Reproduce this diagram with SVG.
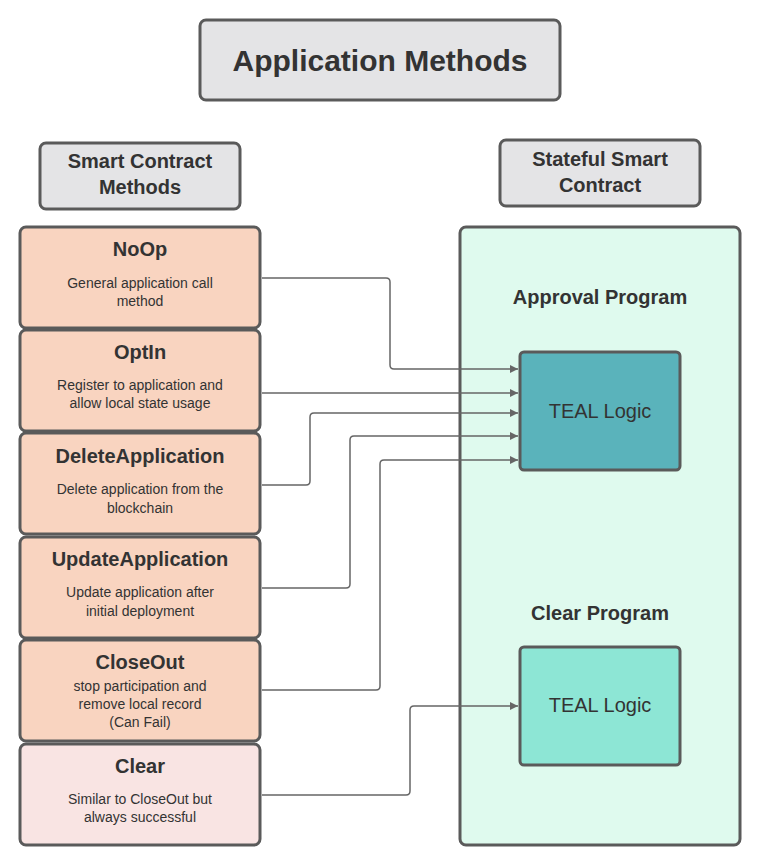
<svg xmlns="http://www.w3.org/2000/svg" width="760" height="866" viewBox="0 0 760 866">
<style>
.b{stroke:#5a5a5a;stroke-width:3}
.h{fill:#e4e4e6}
.m{fill:#f9d4c0}
.t{font-family:"Liberation Sans",Arial,sans-serif;fill:#333;text-anchor:middle}
.bt{font-weight:bold;font-size:20px}
.st{font-size:14px}
.c{fill:none;stroke:#666;stroke-width:1.5;marker-end:url(#a)}
</style>
<defs><marker id="a" viewBox="0 0 10 10" refX="10" refY="5" markerWidth="8" markerHeight="8" markerUnits="userSpaceOnUse" orient="auto"><path d="M0,0L10,5L0,10z" fill="#666"/></marker></defs>
<rect width="760" height="866" fill="#fff"/>
<g id="title"><rect class="b h" x="200" y="20" width="360" height="80" rx="6"/><text class="t" x="380" y="71" font-size="30" font-weight="bold">Application Methods</text></g>
<g id="hdrL"><rect class="b h" x="40" y="143" width="200" height="66" rx="6"/><text class="t bt" x="140" y="168">Smart Contract</text><text class="t bt" x="140" y="194">Methods</text></g>
<g id="hdrR"><rect class="b h" x="500" y="140" width="200" height="66" rx="6"/><text class="t bt" x="600" y="166">Stateful Smart</text><text class="t bt" x="600" y="192">Contract</text></g>
<g id="ssc"><rect class="b" fill="#dffaee" x="460" y="227" width="280" height="618" rx="6"/><text class="t bt" x="600" y="304">Approval Program</text><text class="t bt" x="600" y="620">Clear Program</text></g>
<g id="teal1"><rect class="b" fill="#5ab3bb" x="520" y="352" width="160" height="118" rx="4"/><text class="t" x="600" y="418" font-size="20">TEAL Logic</text></g>
<g id="teal2"><rect class="b" fill="#8de6d5" x="520" y="647" width="160" height="118" rx="4"/><text class="t" x="600" y="712" font-size="20">TEAL Logic</text></g>
<g id="noop"><rect class="b m" x="20" y="227" width="240" height="101" rx="6"/><text class="t bt" x="140" y="256">NoOp</text><text class="t st" x="140" y="288">General application call</text><text class="t st" x="140" y="306">method</text></g>
<g id="optin"><rect class="b m" x="20" y="330" width="240" height="101" rx="6"/><text class="t bt" x="140" y="359">OptIn</text><text class="t st" x="140" y="390">Register to application and</text><text class="t st" x="140" y="408">allow local state usage</text></g>
<g id="delete"><rect class="b m" x="20" y="433" width="240" height="101" rx="6"/><text class="t bt" x="140" y="463">DeleteApplication</text><text class="t st" x="140" y="494">Delete application from the</text><text class="t st" x="140" y="513">blockchain</text></g>
<g id="update"><rect class="b m" x="20" y="537" width="240" height="101" rx="6"/><text class="t bt" x="140" y="566">UpdateApplication</text><text class="t st" x="140" y="597">Update application after</text><text class="t st" x="140" y="616">initial deployment</text></g>
<g id="closeout"><rect class="b m" x="20" y="640" width="240" height="101" rx="6"/><text class="t bt" x="140" y="669">CloseOut</text><text class="t st" x="140" y="691">stop participation and</text><text class="t st" x="140" y="709">remove local record</text><text class="t st" x="140" y="727">(Can Fail)</text></g>
<g id="clear"><rect class="b" fill="#f9e4e3" x="20" y="744" width="240" height="101" rx="6"/><text class="t bt" x="140" y="773">Clear</text><text class="t st" x="140" y="804">Similar to CloseOut but</text><text class="t st" x="140" y="822">always successful</text></g>
<g id="connectors">
<path class="c" d="M262,278H386Q390,278 390,282V365Q390,369 394,369H518"/>
<path class="c" d="M262,393H518"/>
<path class="c" d="M262,485H306Q310,485 310,481V417Q310,413 314,413H518"/>
<path class="c" d="M262,588H346Q350,588 350,584V440Q350,436 354,436H518"/>
<path class="c" d="M262,690H376Q380,690 380,686V464Q380,460 384,460H518"/>
<path class="c" d="M262,795H406Q410,795 410,791V710Q410,706 414,706H518"/>
</g>
</svg>
